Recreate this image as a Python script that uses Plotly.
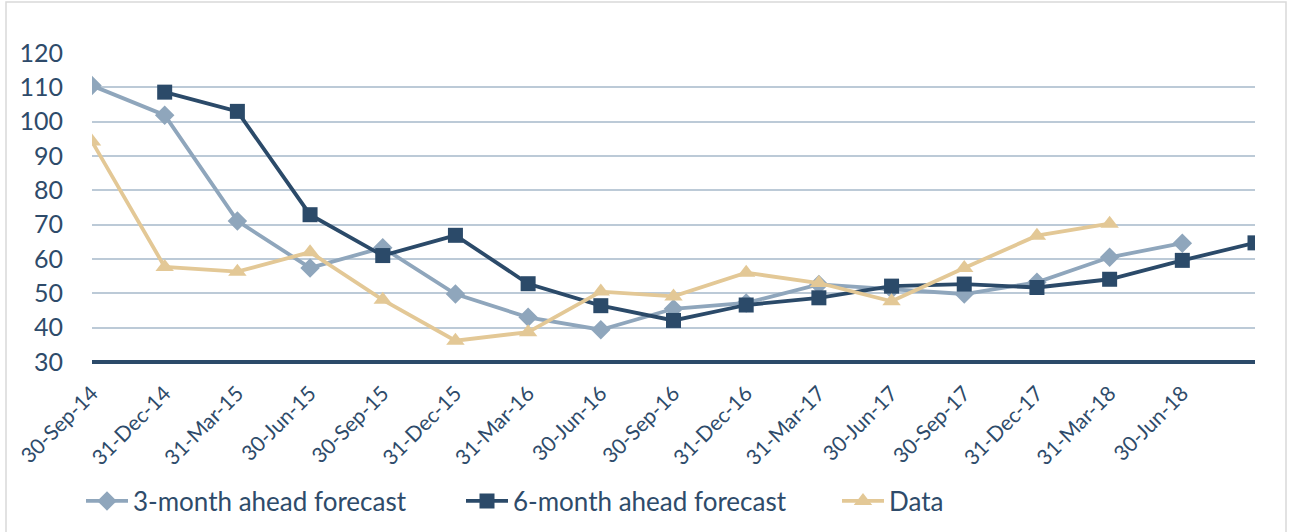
import plotly.graph_objects as go

categories = ["30-Sep-14", "31-Dec-14", "31-Mar-15", "30-Jun-15", "30-Sep-15", "31-Dec-15",
              "31-Mar-16", "30-Jun-16", "30-Sep-16", "31-Dec-16", "31-Mar-17", "30-Jun-17",
              "30-Sep-17", "31-Dec-17", "31-Mar-18", "30-Jun-18", "30-Sep-18"]
tick_labels = categories[:16] + [""]

forecast_3m = [110.5, 101.9, 71.1, 57.4, 63.3, 49.8, 43.0, 39.4, 45.5, 47.2, 52.6, 51.2,
               49.8, 53.2, 60.5, 64.6, None]
forecast_6m = [None, 108.6, 103.0, 72.9, 61.0, 66.9, 52.8, 46.4, 42.1, 46.6, 48.7, 52.1,
               52.7, 51.7, 54.1, 59.6, 64.7]
data_vals = [94.2, 57.7, 56.3, 62.0, 48.1, 36.2, 38.7, 50.5, 49.1, 56.0, 53.0, 47.7,
             57.4, 66.8, 70.3, None, None]

C3 = "#8FA6BC"
C6 = "#2B4A69"
CD = "#E3C896"
TXT = "#2E4B6A"
FONT = "Lato"

x_idx = list(range(len(categories)))

fig = go.Figure()
fig.add_trace(go.Scatter(x=x_idx, y=forecast_3m, name="3-month ahead forecast", mode="lines+markers",
                         line=dict(color=C3, width=3.8), marker=dict(symbol="diamond", size=15, color=C3),
                         legend="legend"))
fig.add_trace(go.Scatter(x=x_idx, y=forecast_6m, name="6-month ahead forecast", mode="lines+markers",
                         line=dict(color=C6, width=3.8), marker=dict(symbol="square", size=15, color=C6),
                         legend="legend2"))
fig.add_trace(go.Scatter(x=x_idx, y=data_vals, name="Data", mode="lines+markers",
                         line=dict(color=CD, width=3.8), marker=dict(symbol="triangle-up", size=16, color=CD),
                         legend="legend3"))

L, R, T, B = 92, 37, 53, 170
W, H = 1292, 532
pw = W - L - R
ph = H - T - B

def px_x(px):
    return (px - L) / pw

def px_y(py):
    return (H - B - py) / ph

leg_common = dict(orientation="h", yanchor="middle", xanchor="left", itemwidth=42,
                  font=dict(family=FONT, size=26, color=TXT), bgcolor="rgba(0,0,0,0)")

fig.update_layout(
    width=W, height=H,
    margin=dict(l=L, r=R, t=T, b=B, autoexpand=False),
    paper_bgcolor="white", plot_bgcolor="white",
    font=dict(family=FONT, color=TXT),
    showlegend=True,
    legend=dict(x=px_x(81), y=px_y(501), visible=True, **leg_common),
    legend2=dict(x=px_x(461), y=px_y(501), visible=True, **leg_common),
    legend3=dict(x=px_x(837), y=px_y(501), visible=True, **leg_common),
    xaxis=dict(range=[0, 16], tickmode="array", tickvals=x_idx, ticktext=tick_labels,
               tickangle=-45, tickfont=dict(family=FONT, size=21, color=TXT), automargin=False,
               showgrid=False, zeroline=False, showline=False, ticks="", ticklabelstandoff=14),
    yaxis=dict(range=[30, 120], tickmode="array", tickvals=list(range(30, 121, 10)),
               tickfont=dict(family=FONT, size=25, color=TXT), automargin=False,
               showgrid=True, gridcolor="#BCCAD7", gridwidth=2, zeroline=False,
               showline=False, ticks="", ticklabelstandoff=28),
    shapes=[
        dict(type="line", xref="paper", yref="paper", x0=0, x1=1, y0=0, y1=0,
             line=dict(color=C6, width=4)),
        dict(type="rect", xref="paper", yref="paper",
             x0=px_x(6), x1=px_x(1286), y0=px_y(540), y1=px_y(2),
             line=dict(color="#D9D9D9", width=1.5), fillcolor="rgba(0,0,0,0)", layer="below"),
    ],
)

fig.write_html("out.html", config={"displayModeBar": False},
               post_script="document.body.style.margin='0';")
